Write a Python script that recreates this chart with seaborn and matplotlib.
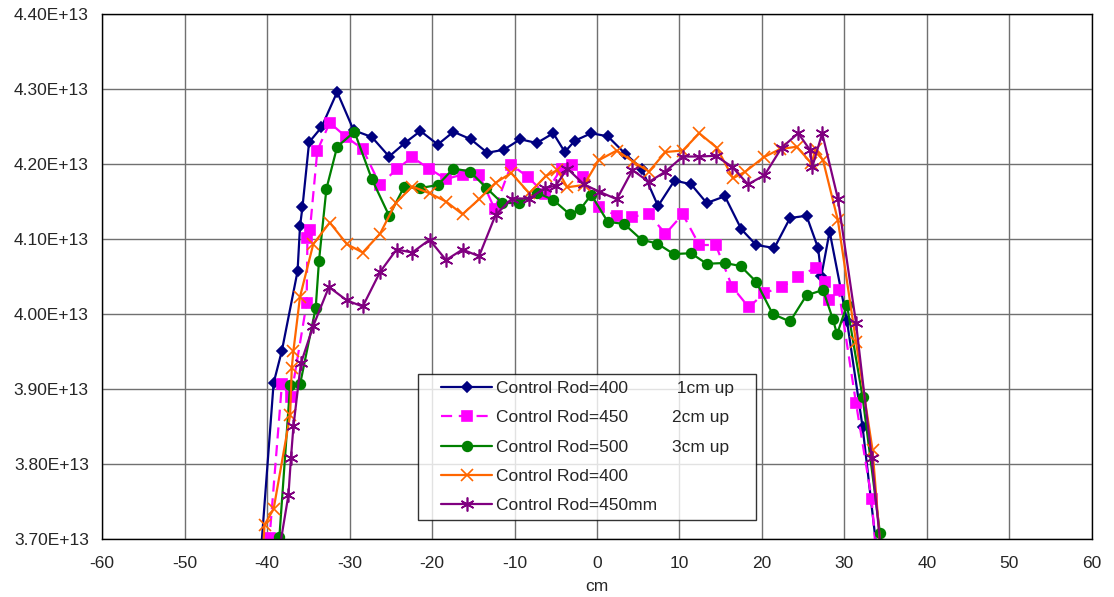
import numpy as np
import pandas as pd
import matplotlib
matplotlib.use('Agg')
import matplotlib.pyplot as plt
from matplotlib.lines import Line2D
from matplotlib.legend_handler import HandlerLine2D
from matplotlib.ticker import FuncFormatter, MultipleLocator
import seaborn as sns

# values, y in units of 1e13
blue_x = [-41.3, -39.2, -38.2, -36.3, -36.0, -35.7, -34.9, -33.4, -31.5, -29.5, -27.3, -25.2, -23.3, -21.4, -19.3,
          -17.4, -15.3, -13.3, -11.3, -9.3, -7.3, -5.3, -3.9, -2.7, -0.7, 1.3, 3.4, 5.4, 7.4, 9.4,
          11.4, 13.3, 15.5, 17.5, 19.3, 21.5, 23.4, 25.4, 26.8, 27.2, 28.2, 30.3, 32.2, 34.8]
blue_y = [3.60, 3.908, 3.951, 4.057, 4.117, 4.143, 4.229, 4.249, 4.296, 4.245, 4.236, 4.210, 4.228, 4.244, 4.226,
          4.243, 4.233, 4.215, 4.219, 4.233, 4.228, 4.241, 4.216, 4.231, 4.241, 4.237, 4.214, 4.194, 4.144, 4.178,
          4.173, 4.148, 4.157, 4.113, 4.092, 4.088, 4.128, 4.131, 4.088, 4.051, 4.110, 3.991, 3.849, 3.60]

mag_x = [-40.3, -39.7, -38.2, -37.1, -35.2, -35.1, -34.8, -33.9, -32.4, -30.4, -28.4, -26.3, -24.3, -22.4, -20.4,
         -18.3, -16.3, -14.3, -12.4, -10.4, -8.4, -6.3, -4.3, -3.0, -1.7, 0.2, 2.4, 4.3, 6.3, 8.3,
         10.4, 12.4, 14.4, 16.4, 18.4, 20.3, 22.4, 24.4, 26.5, 27.7, 28.1, 29.3, 31.4, 33.3, 34.4]
mag_y = [3.60, 3.701, 3.906, 3.889, 4.014, 4.102, 4.112, 4.218, 4.255, 4.236, 4.220, 4.172, 4.193, 4.209, 4.194,
         4.180, 4.186, 4.186, 4.140, 4.199, 4.183, 4.160, 4.194, 4.199, 4.183, 4.143, 4.131, 4.130, 4.133, 4.107,
         4.133, 4.092, 4.092, 4.036, 4.009, 4.028, 4.036, 4.049, 4.062, 4.042, 4.019, 4.032, 3.881, 3.753, 3.60]

grn_x = [-39.0, -38.5, -37.2, -36.0, -34.1, -33.7, -32.8, -31.5, -29.4, -27.3, -25.2, -23.4, -21.4, -19.3, -17.4,
         -15.4, -13.4, -11.5, -9.4, -7.3, -5.3, -3.3, -2.0, -0.7, 1.3, 3.3, 5.4, 7.3, 9.3, 11.4,
         13.3, 15.5, 17.4, 19.3, 21.3, 23.4, 25.4, 27.4, 28.6, 29.1, 30.3, 32.2, 34.3, 35.0]
grn_y = [3.60, 3.703, 3.905, 3.906, 4.008, 4.071, 4.167, 4.223, 4.243, 4.180, 4.131, 4.169, 4.168, 4.172, 4.194,
         4.190, 4.168, 4.148, 4.148, 4.162, 4.152, 4.133, 4.140, 4.159, 4.123, 4.120, 4.099, 4.094, 4.080, 4.081,
         4.067, 4.068, 4.064, 4.043, 4.000, 3.990, 4.025, 4.032, 3.993, 3.973, 4.012, 3.889, 3.708, 3.60]

org_x = [-41.0, -40.3, -39.2, -37.2, -37.0, -36.8, -36.0, -34.4, -32.4, -30.3, -28.4, -26.3, -24.4, -22.4, -20.3,
         -18.3, -16.3, -14.3, -12.3, -10.4, -8.2, -6.2, -4.8, -3.6, -1.6, 0.2, 2.4, 4.4, 6.3, 8.3,
         10.4, 12.4, 14.5, 16.5, 18.0, 20.2, 22.2, 24.2, 26.0, 26.5, 27.4, 29.2, 31.4, 33.4, 35.0]
org_y = [3.60, 3.719, 3.740, 3.865, 3.928, 3.951, 4.023, 4.093, 4.122, 4.093, 4.082, 4.107, 4.148, 4.170, 4.161,
         4.150, 4.133, 4.153, 4.175, 4.188, 4.161, 4.184, 4.192, 4.169, 4.172, 4.205, 4.218, 4.203, 4.190, 4.216,
         4.218, 4.241, 4.222, 4.181, 4.190, 4.209, 4.220, 4.223, 4.201, 4.220, 4.205, 4.125, 3.963, 3.819, 3.60]

pur_x = [-39.8, -37.4, -37.1, -36.8, -35.9, -34.4, -32.5, -30.3, -28.4, -26.3, -24.3, -22.4, -20.3, -18.3, -16.3,
         -14.3, -12.3, -10.3, -8.2, -6.3, -5.0, -3.6, -1.6, 0.3, 2.4, 4.3, 6.3, 8.3, 10.4, 12.4,
         14.4, 16.4, 18.3, 20.3, 22.4, 24.4, 25.8, 26.1, 27.3, 29.2, 31.4, 33.3, 35.2]
pur_y = [3.60, 3.759, 3.808, 3.850, 3.934, 3.984, 4.036, 4.018, 4.010, 4.056, 4.086, 4.082, 4.099, 4.072, 4.086,
         4.077, 4.132, 4.154, 4.154, 4.168, 4.171, 4.194, 4.173, 4.163, 4.153, 4.192, 4.176, 4.190, 4.210, 4.210,
         4.211, 4.196, 4.173, 4.185, 4.222, 4.241, 4.219, 4.196, 4.241, 4.154, 3.988, 3.808, 3.60]

labels = ['Control Rod=400          1cm up   ',
          'Control Rod=450         2cm up',
          'Control Rod=500         3cm up',
          'Control Rod=400',
          'Control Rod=450mm']

sns.set_theme(style='white')
plt.rcParams['font.family'] = ['Liberation Sans', 'DejaVu Sans']
plt.rcParams['axes.unicode_minus'] = False

fig = plt.figure(figsize=(11.14, 5.97), dpi=100)
ax = fig.add_axes([0.0916, 0.0972, 0.8886, 0.8793])

# series: x, y, colour, marker, size, dashed
series = [
    (blue_x, blue_y, '#000080', 'D', 5.5, False),
    (mag_x, mag_y, '#FF00FF', 's', 7, True),
    (grn_x, grn_y, '#008000', 'o', 7, False),
    (org_x, org_y, '#FF6600', 'x', 9, False),
    (pur_x, pur_y, '#800080', (6, 2, 0), 10, False),
]

for (xs, ys, col, mk, ms, dashed), lab in zip(series, labels):
    df = pd.DataFrame({'cm': xs, 'flux': np.array(ys) * 1e13})
    kw = dict(linestyle=(0, (5, 3))) if dashed else {}
    sns.lineplot(data=df, x='cm', y='flux', sort=False, estimator=None, ax=ax,
                 color=col, marker=mk, markersize=ms, markeredgecolor=col,
                 markeredgewidth=1.2, linewidth=1.6, label=lab, **kw)

ax.set_xlim(-60, 60)
ax.set_ylim(3.70e13, 4.40e13)
ax.xaxis.set_major_locator(MultipleLocator(10))
ax.yaxis.set_major_locator(MultipleLocator(0.1e13))
ax.yaxis.set_major_formatter(FuncFormatter(lambda v, _: f'{v:.2E}'))
ax.grid(True, color='#707070', linewidth=1.0)
ax.set_axisbelow(True)
for s in ax.spines.values():
    s.set_color('black')
    s.set_linewidth(1.0)
ax.tick_params(axis='both', labelsize=12.5, length=0, color='black')
ax.tick_params(axis='x', pad=12)
ax.tick_params(axis='y', pad=9.5)
ax.set_xlabel('cm', fontsize=12.5, labelpad=6)
ax.set_ylabel('')

leg = ax.legend(loc='lower left', bbox_to_anchor=(0.319, 0.036), borderaxespad=0,
                fontsize=12.5, handlelength=3.87, handletextpad=0.23, labelspacing=0.81,
                frameon=True, fancybox=False, borderpad=0.4,
                handler_map={Line2D: HandlerLine2D(xpad=0.94)})
leg.get_frame().set_edgecolor('black')
leg.get_frame().set_linewidth(1.0)

fig.savefig('out.png', dpi=100)
